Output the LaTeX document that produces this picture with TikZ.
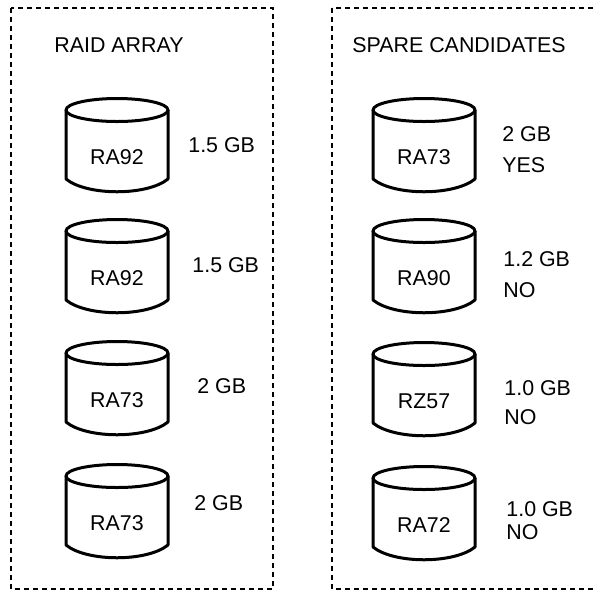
\documentclass[tikz,border=0pt]{standalone}
\usepackage{fontspec}
\setmainfont{Liberation Sans}
\usepackage{tikz}
\tikzset{
	disk line/.style={line width=1.5pt, line join=round},
	frame/.style={line width=1pt, dash pattern=on 2.5pt off 2pt},
	txt/.style={inner sep=0pt, font=\fontsize{10.7}{13}\selectfont},
}
\def\disk(#1,#2)#3#4{\draw[disk line] (#1-51,#2) -- (#1-51,#2+69) .. controls (#1-30,#2+86) and (#1+30,#2+86) .. (#1+51,#2+69) -- (#1+51,#2);
	\draw[disk line] (#1,#2) ellipse [x radius=25.5pt, y radius=5.75pt];
	\node[txt] (#3) at (#1,#2+47) {#4};}

\begin{document}
\begin{tikzpicture}[x=0.5pt, y=-0.5pt]
		%%%%% START %%%%%
		
		\useasboundingbox (0, 0) rectangle (594, 591);
		
		\draw[frame] (11, 8) rectangle (273, 589);
		\draw[frame] (332, 8) rectangle (606, 589);
		
		\node[txt, anchor=west] (raid) at (54, 45) {RAID ARRAY};
		\node[txt, anchor=west] (spare) at (352, 45) {SPARE CANDIDATES};
		
		\disk(117, 110){a1}{RA92}
		\disk(117, 231){a2}{RA92}
		\disk(117, 353){a3}{RA73}
		\disk(117, 476){a4}{RA73}
		
		\node[txt, anchor=west] (asize1) at (188, 145) {1.5 GB};
		\node[txt, anchor=west] (asize2) at (192, 265) {1.5 GB};
		\node[txt, anchor=west] (asize3) at (197, 386) {2 GB};
		\node[txt, anchor=west] (asize4) at (194, 503) {2 GB};
		
		\disk(424, 110){s1}{RA73}
		\disk(424, 231){s2}{RA90}
		\disk(424, 354){s3}{RZ57}
		\disk(424, 478){s4}{RA72}
		
		\node[txt, anchor=west] (ssize1) at (502, 134) {2 GB};
		\node[txt, anchor=west] (sfit1) at (502, 165) {YES};
		\node[txt, anchor=west] (ssize2) at (503, 259) {1.2 GB};
		\node[txt, anchor=west] (sfit2) at (503, 290) {NO};
		\node[txt, anchor=west] (ssize3) at (504, 388) {1.0 GB};
		\node[txt, anchor=west] (sfit3) at (504, 417) {NO};
		\node[txt, anchor=west] (ssize4) at (506, 509) {1.0 GB};
		\node[txt, anchor=west] (sfit4) at (506, 532) {NO};
		
		%%%%% END %%%%%
	\end{tikzpicture}
\end{document}
